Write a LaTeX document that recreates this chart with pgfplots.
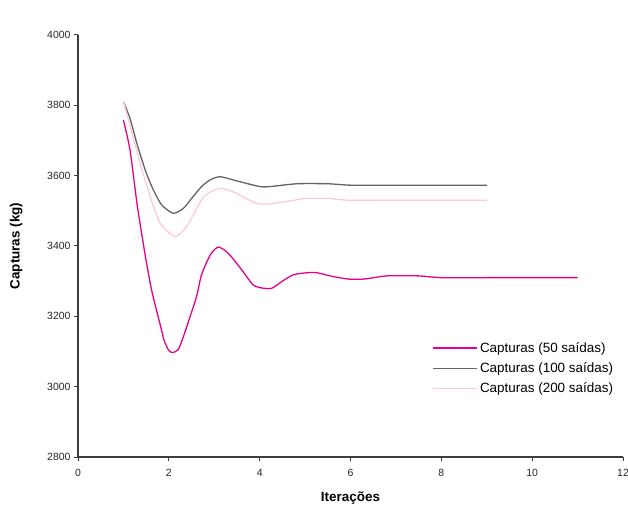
\documentclass[border=0pt]{standalone}
\usepackage{pgfplots}
\pgfplotsset{compat=1.18}
\usepackage{fontspec}
\setmainfont{Liberation Sans}
\definecolor{c50}{RGB}{232,0,140}
\definecolor{c100}{RGB}{100,100,100}
\definecolor{c200}{RGB}{255,200,222}
\definecolor{axc}{RGB}{60,60,60}
\begin{document}
\begin{tikzpicture}
\begin{axis}[
  at={(0,0)}, anchor=south west,
  scale only axis, width=545bp, height=422bp,
  xmin=0, xmax=12, ymin=2800, ymax=4000,
  xtick={0,2,...,12}, ytick={2800,3000,...,4000},
  axis x line=bottom, axis y line=left,
  axis line style={-, axc, line width=1.3bp},
  tick style={axc, line width=1bp},
  tick align=outside, major tick length=4bp,
  /pgf/number format/assume math mode=true,
  /pgf/number format/1000 sep={},
  tick label style={font=\fontsize{10.5}{12}\selectfont, text=black!85},
  xticklabel style={yshift=-5bp},
  xlabel={\textbf{Iterações}}, ylabel={\textbf{Capturas (kg)}},
  label style={font=\fontsize{13.5}{15}\selectfont},
  xlabel style={yshift=-8bp},
  ylabel style={yshift=18bp},
  legend style={draw=none, fill=none, at={(0.645,0.282)}, anchor=north west,
    font=\fontsize{13.5}{15}\selectfont, row sep=5bp},
  legend cell align=left,
  legend image code/.code={\draw[#1] (0bp,0bp) -- (40bp,0bp); \path (0bp,0bp) -- (44bp,0bp);},
  every axis plot/.append style={line width=1.3bp, smooth, tension=0.4},
  clip=false,
]
\addplot[c50] coordinates {
(1,3758) (1.145,3673) (1.3,3520) (1.46,3389) (1.62,3275) (1.83,3166) (1.9,3130) (2.0,3103) (2.086,3097) (2.21,3106) (2.32,3142) (2.47,3200) (2.61,3256) (2.72,3318) (2.91,3374) (3.09,3397) (3.31,3379) (3.6,3333) (3.86,3289) (4.08,3280) (4.27,3280) (4.5,3300) (4.74,3318) (5.04,3324) (5.26,3324) (5.55,3315) (5.95,3306) (6.3,3306) (6.8,3315) (7.5,3315) (8,3310) (9,3310) (10,3310) (11,3310)};
\addlegendentry{Capturas (50 saídas)}
\addplot[c100] coordinates {
(1,3810) (1.145,3763) (1.3,3690) (1.48,3616) (1.65,3562) (1.84,3517) (2.1,3493) (2.32,3507) (2.5,3535) (2.72,3569) (2.91,3588) (3.13,3597) (3.5,3585) (4.0,3569) (4.23,3569) (4.82,3577) (5.5,3577) (6,3573) (7,3573) (8,3573) (9,3573)};
\addlegendentry{Capturas (100 saídas)}
\addplot[c200] coordinates {
(1,3810) (1.15,3740) (1.37,3635) (1.59,3540) (1.81,3465) (2.14,3427) (2.39,3455) (2.72,3531) (2.87,3550) (3.13,3564) (3.42,3554) (3.94,3521) (4.3,3521) (4.89,3533) (5,3535) (5.5,3535) (6,3530) (7,3530) (8,3530) (9,3530)};
\addlegendentry{Capturas (200 saídas)}
\end{axis}
\pgfresetboundingbox
\path (-78bp,-48bp) rectangle (550bp,457bp);
\end{tikzpicture}
\end{document}
